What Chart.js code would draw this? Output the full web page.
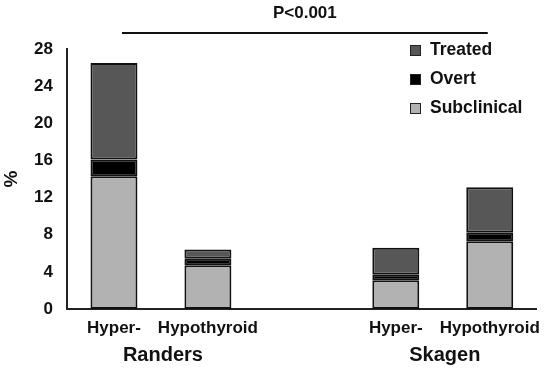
<!DOCTYPE html>
<html>
<head>
<meta charset="utf-8">
<script src="https://cdn.jsdelivr.net/npm/chart.js@4"></script>
<style>
  html, body { margin: 0; padding: 0; background: #fff; }
  #wrap { width: 550px; height: 371px; }
</style>
</head>
<body>
<div id="wrap"><canvas id="thyroidChart" width="550" height="371"></canvas></div>
<script>
const categories = ['Hyper-', 'Hypothyroid', '', 'Hyper-', 'Hypothyroid'];
const subclinical = [14.3, 4.7, null, 3.1, 7.3];
const overt = [1.8, 0.7, null, 0.6, 0.9];
const treated = [10.4, 1.0, null, 2.9, 4.9];
const groupNames = ['Randers', 'Skagen'];
const groupSpans = [[0, 1], [3, 4]];
const pLabel = 'P<0.001';
const pSpan = [0, 4];
const yTicks = [0, 4, 8, 12, 16, 20, 24, 28];

const FONT = 'Liberation Sans, Arial, sans-serif';

// group labels, p-value bracket and legend drawn on top
const extras = {
    id: 'extras',
    afterDraw(chart) {
        const c = chart.ctx;
        const x = chart.scales.x;
        c.save();
        c.fillStyle = '#111';
        c.textAlign = 'center';
        c.textBaseline = 'middle';
        c.font = 'bold 20px ' + FONT;
        groupNames.forEach((g, i) => {
            const mid = (x.getPixelForValue(groupSpans[i][0]) + x.getPixelForValue(groupSpans[i][1])) / 2;
            c.fillText(g, mid + 2, 355);
        });
        // p value line
        const x0 = x.getPixelForValue(pSpan[0]) + 8;
        const x1 = x.getPixelForValue(pSpan[1]) - 2;
        c.strokeStyle = '#111';
        c.lineWidth = 2;
        c.beginPath();
        c.moveTo(x0, 33);
        c.lineTo(x1, 33);
        c.stroke();
        c.font = 'bold 17px ' + FONT;
        c.fillText(pLabel, (x0 + x1) / 2, 13);
        // legend (reverse order, like the stack)
        c.textAlign = 'left';
        c.font = 'bold 17.5px ' + FONT;
        const ds = chart.data.datasets.slice().reverse();
        ds.forEach((d, i) => {
            const yy = 50 + i * 29;
            c.fillStyle = d.backgroundColor;
            c.fillRect(410, yy - 5, 11, 11);
            c.lineWidth = 1;
            c.strokeStyle = '#222';
            c.strokeRect(410.5, yy - 4.5, 10, 10);
            c.fillStyle = '#111';
            c.fillText(d.label, 430, yy);
        });
        c.restore();
    }
};

document.addEventListener('DOMContentLoaded', () => {
    const ctx = document.getElementById('thyroidChart').getContext('2d');
    const common = {
        borderColor: '#111',
        borderWidth: 2,
        borderSkipped: false,
        barPercentage: 1.0,
        categoryPercentage: 0.5
    };
    new Chart(ctx, {
        type: 'bar',
        data: {
            labels: categories,
            datasets: [
                Object.assign({ label: 'Subclinical', data: subclinical, backgroundColor: '#b2b2b2' }, common),
                Object.assign({ label: 'Overt', data: overt, backgroundColor: '#000000' }, common),
                Object.assign({ label: 'Treated', data: treated, backgroundColor: '#575757' }, common)
            ]
        },
        options: {
            responsive: false,
            animation: false,
            layout: { padding: { left: 0, right: 12, top: 49, bottom: 0 } },
            plugins: {
                legend: { display: false },
                tooltip: { enabled: false }
            },
            scales: {
                x: {
                    stacked: true,
                    grid: { display: false, drawTicks: false },
                    border: { color: '#222', width: 2 },
                    ticks: {
                        padding: 9,
                        color: '#111',
                        maxRotation: 0,
                        minRotation: 0,
                        autoSkip: false,
                        font: { family: FONT, size: 17, weight: 'bold' }
                    },
                    afterFit: s => { s.height = 62; }
                },
                y: {
                    stacked: true,
                    min: 0,
                    max: 28,
                    afterBuildTicks: s => { s.ticks = yTicks.map(v => ({ value: v })); },
                    grid: { display: false, drawTicks: false },
                    border: { color: '#222', width: 2 },
                    ticks: {
                        padding: 14,
                        color: '#111',
                        font: { family: FONT, size: 17, weight: 'bold' }
                    },
                    title: {
                        display: true,
                        text: '%',
                        color: '#111',
                        padding: 0,
                        font: { family: FONT, size: 19, weight: 'bold' }
                    },
                    afterFit: s => { s.width = 67; }
                }
            }
        },
        plugins: [extras]
    });
});
</script>
</body>
</html>
